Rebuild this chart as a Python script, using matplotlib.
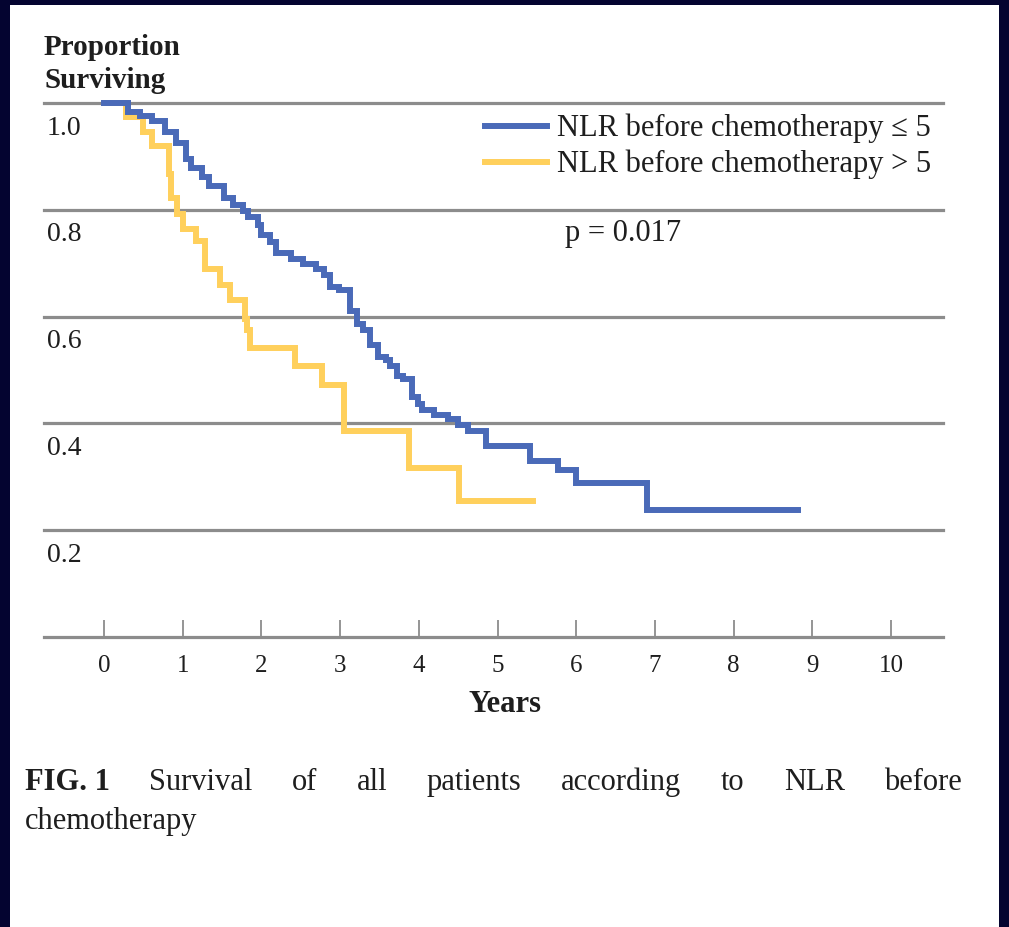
import matplotlib
matplotlib.use("Agg")
import matplotlib.pyplot as plt
from matplotlib.patches import Rectangle
from matplotlib.lines import Line2D

# ---- data ----
blue_times = [0, 0.30, 0.46, 0.61, 0.78, 0.92, 1.04, 1.11, 1.25, 1.33, 1.52, 1.64, 1.77, 1.83, 1.96,
              2.00, 2.11, 2.19, 2.38, 2.53, 2.70, 2.79, 2.87, 2.98, 3.13, 3.21, 3.29, 3.38, 3.48, 3.58,
              3.64, 3.72, 3.80, 3.91, 3.99, 4.04, 4.19, 4.37, 4.50, 4.63, 4.86, 5.41, 5.77, 6.00, 6.90, 8.82]
blue_surv = [1.0, 0.983, 0.976, 0.966, 0.946, 0.925, 0.895, 0.879, 0.861, 0.844, 0.822, 0.809, 0.797, 0.787, 0.771,
             0.752, 0.740, 0.719, 0.708, 0.698, 0.690, 0.677, 0.656, 0.649, 0.611, 0.587, 0.574, 0.546, 0.525, 0.518,
             0.508, 0.489, 0.483, 0.450, 0.437, 0.426, 0.416, 0.409, 0.397, 0.386, 0.358, 0.330, 0.312, 0.288, 0.238, 0.238]
yellow_times = [0, 0.28, 0.49, 0.61, 0.82, 0.85, 0.93, 1.01, 1.17, 1.28, 1.47, 1.60, 1.79, 1.82, 1.86,
                2.43, 2.77, 3.05, 3.88, 4.51, 5.45]
yellow_surv = [1.0, 0.973, 0.946, 0.919, 0.867, 0.822, 0.793, 0.764, 0.741, 0.690, 0.660, 0.632, 0.596, 0.574, 0.541,
               0.507, 0.472, 0.386, 0.317, 0.255, 0.255]
x_ticks = list(range(0, 11))
y_gridvals = [0.2, 0.4, 0.6, 0.8, 1.0]
y_labels = ["0.2", "0.4", "0.6", "0.8", "1.0"]
legend_labels = ["NLR before chemotherapy \u2264 5", "NLR before chemotherapy > 5"]
p_text = "p = 0.017"
caption_words = ["FIG. 1", "Survival", "of", "all", "patients", "according", "to", "NLR", "before"]
caption_line2 = "chemotherapy"

BLUE = "#4A6AB8"
YELLOW = "#FFD05C"
GRAY = "#8C8C8C"
NAVY = "#040430"
TXT = "#1e1e1e"
FONT = "Liberation Serif"

W, H = 1009, 928
fig = plt.figure(figsize=(W / 100, H / 100), dpi=100)
fig.patch.set_facecolor(NAVY)

def fx(x):
    return x / W

def fy(y):
    return 1 - y / H

# white panel
fig.add_artist(Rectangle((fx(10), 0), fx(999) - fx(10), fy(6), transform=fig.transFigure,
                         facecolor="white", edgecolor="none", zorder=0))

ax = fig.add_axes([fx(44), fy(638), fx(943) - fx(44), fy(104) - fy(638)])
ax.set_facecolor("none")
ax.set_xlim(-0.762, 10.66)
ax.set_ylim(0, 1.0)
for s in ax.spines.values():
    s.set_visible(False)

for v in [0.0] + y_gridvals:
    ax.axhline(v, color=GRAY, lw=2.3, clip_on=False, zorder=1)

ax.set_xticks(x_ticks)
ax.set_xticklabels([str(t) for t in x_ticks], fontfamily=FONT, fontsize=18, color=TXT)
ax.tick_params(axis="x", direction="in", length=12, width=1.3, color=GRAY, pad=12)
ax.set_yticks([])

for v, lab in zip(y_gridvals, y_labels):
    ax.text(0.003, v - 0.045, lab, transform=ax.get_yaxis_transform(), ha="left", va="center",
            fontfamily=FONT, fontsize=20, color=TXT)

ax.step(yellow_times, yellow_surv, where="post", color=YELLOW, lw=4.3, clip_on=False, zorder=3,
        solid_joinstyle="miter")
ax.step(blue_times, blue_surv, where="post", color=BLUE, lw=4.3, clip_on=False, zorder=4,
        solid_joinstyle="miter")

# legend
for yy, col, lab in [(127, BLUE, legend_labels[0]), (163, YELLOW, legend_labels[1])]:
    fig.add_artist(Line2D([fx(485), fx(547)], [fy(yy), fy(yy)], color=col, lw=4.3, transform=fig.transFigure))
    fig.text(fx(557), fy(yy + 9), lab, ha="left", va="baseline", fontfamily=FONT, fontsize=22, color=TXT)

fig.text(fx(565), fy(241), p_text, ha="left", va="baseline", fontfamily=FONT, fontsize=22, color=TXT)

fig.text(fx(44), fy(55), "Proportion", ha="left", va="baseline", fontfamily=FONT, fontsize=21,
         fontweight="bold", color=TXT)
fig.text(fx(44), fy(88), "Surviving", ha="left", va="baseline", fontfamily=FONT, fontsize=21,
         fontweight="bold", color=TXT)
fig.text(fx(505), fy(712), "Years", ha="center", va="baseline", fontfamily=FONT, fontsize=22,
         fontweight="bold", color=TXT)

# caption, justified
fig.canvas.draw()
renderer = fig.canvas.get_renderer()
words = []
for i, w in enumerate(caption_words):
    t = fig.text(0, fy(790), w, ha="left", va="baseline", fontfamily=FONT, fontsize=22,
                 fontweight="bold" if i == 0 else "normal", color=TXT)
    words.append(t)
widths = [t.get_window_extent(renderer).width for t in words]
x0, x1 = 25, 962
gap = (x1 - x0 - sum(widths)) / (len(words) - 1)
xpos = x0
for t, wd in zip(words, widths):
    t.set_x(fx(xpos))
    xpos += wd + gap
fig.text(fx(25), fy(829), caption_line2, ha="left", va="baseline", fontfamily=FONT, fontsize=22,
         color=TXT)

fig.savefig("out.png", dpi=100, facecolor=fig.get_facecolor())
